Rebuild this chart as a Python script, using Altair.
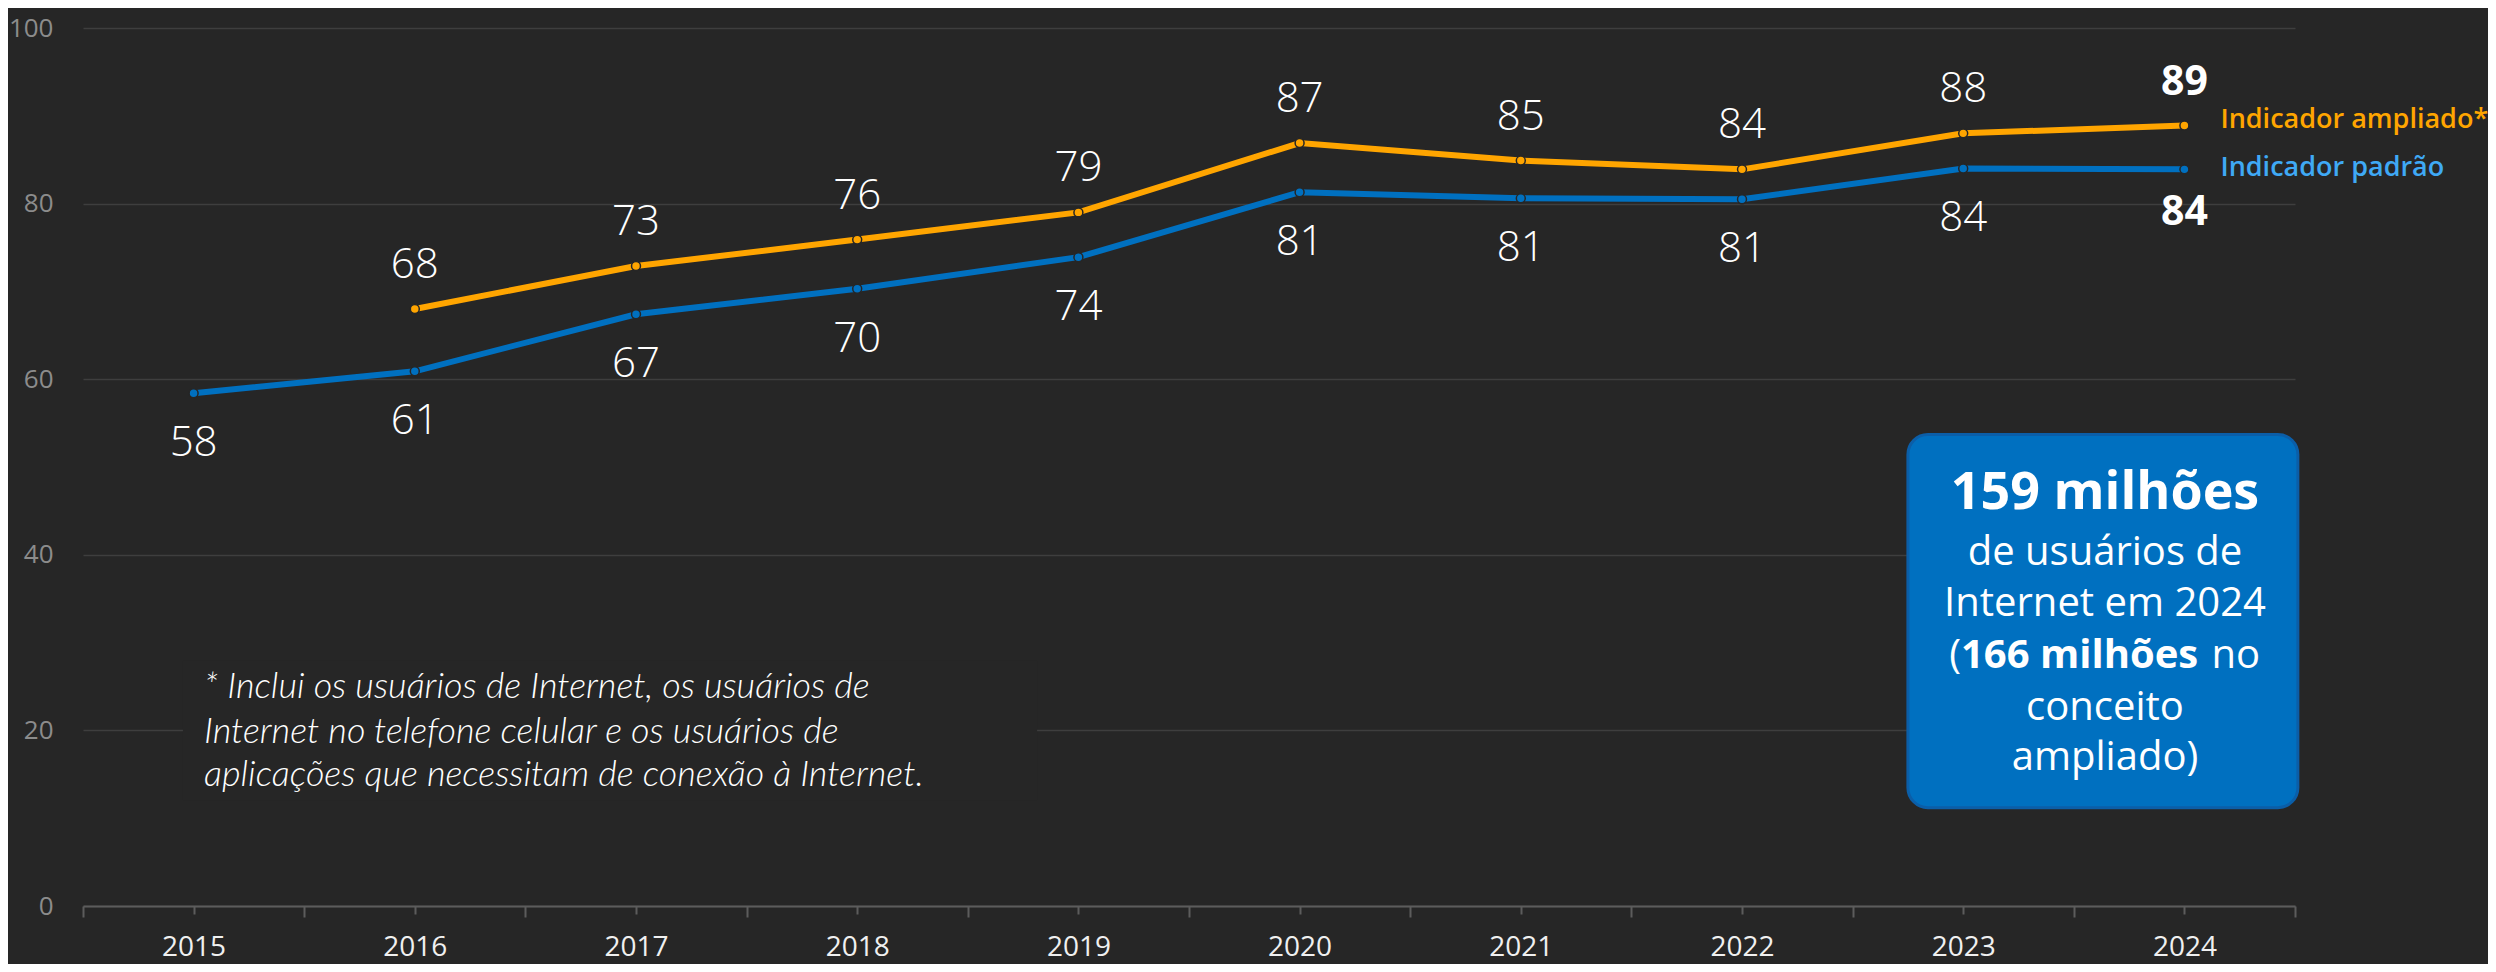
import altair as alt
import pandas as pd

# ---------------- data ----------------
years = [2015, 2016, 2017, 2018, 2019, 2020, 2021, 2022, 2023, 2024]
padrao = [58.4, 60.9, 67.4, 70.3, 73.9, 81.3, 80.6, 80.5, 84.0, 83.9]
padrao_labels = ["58", "61", "67", "70", "74", "81", "81", "81", "84", "84"]
ampliado = [None, 68.0, 72.9, 75.9, 79.0, 86.9, 84.9, 83.9, 88.0, 88.9]
ampliado_labels = [None, "68", "73", "76", "79", "87", "85", "84", "88", "89"]

series_names = ["Indicador ampliado*", "Indicador padrão"]
series_colors = ["#FFA500", "#0070C0"]
legend_text_colors = ["#FFA500", "#3FA9F5"]

y_ticks = [0, 20, 40, 60, 80, 100]

box_lines = ["159 milhões", "de usuários de", "Internet em 2024", "(166 milhões no", "conceito", "ampliado)"]
footnote_lines = [
    "* Inclui os usuários de Internet, os usuários de",
    "Internet no telefone celular e os usuários de",
    "aplicações que necessitam de conexão à Internet.",
]

# ---------------- tables ----------------
rows = []
for i, yr in enumerate(years):
    if ampliado[i] is not None:
        rows.append({"year": yr, "value": ampliado[i], "series": series_names[0], "label": ampliado_labels[i]})
    rows.append({"year": yr, "value": padrao[i], "series": series_names[1], "label": padrao_labels[i]})
df = pd.DataFrame(rows)

last_year = years[-1]
df_a = df[df.series == series_names[0]]
df_p = df[df.series == series_names[1]]

BG = "#262626"
FONT = "Open Sans"

x_ticks = [2014.5 + 0.5 * i for i in range(21)]

x_axis = alt.Axis(
    values=x_ticks,
    labelExpr="datum.value % 1 == 0 ? format(datum.value, 'd') : ''",
    grid=False,
    domainColor="#5c5c5c",
    domainWidth=2,
    tickColor="#5c5c5c",
    tickWidth=2,
    tickSize={"condition": {"test": "datum.value % 1 != 0", "value": 11}, "value": 8},
    labelColor="#f0f0f0",
    labelFont=FONT,
    labelFontSize=28,
    labelPadding=19,
    title=None,
)
y_axis = alt.Axis(
    values=y_ticks,
    grid=True,
    gridColor="#3e3e3e",
    gridWidth=1.5,
    domain=False,
    ticks=False,
    tickSize=0,
    labelColor="#8c8c8c",
    labelFont=FONT,
    labelFontSize=26,
    labelPadding=30,
    title=None,
)

X = alt.X("year:Q", scale=alt.Scale(domain=[2014.5, 2024.5], nice=False, zero=False), axis=x_axis)
Y = alt.Y("value:Q", scale=alt.Scale(domain=[0, 100], nice=False, zero=True), axis=y_axis)
C = alt.Color("series:N", scale=alt.Scale(domain=series_names, range=series_colors), legend=None)

base = alt.Chart(df).encode(x=X, y=Y, color=C)
lines = base.mark_line(strokeWidth=6)
points = base.mark_circle(size=80, opacity=1, stroke=BG, strokeWidth=1.5)

lbl_a = alt.Chart(df_a[df_a.year < last_year]).mark_text(
    dy=-44, font=FONT, fontSize=42, fontWeight=300, color="#ffffff"
).encode(x=X, y=Y, text="label:N")
lbl_p = alt.Chart(df_p[df_p.year < last_year]).mark_text(
    dy=50, font=FONT, fontSize=42, fontWeight=300, color="#ffffff"
).encode(x=X, y=Y, text="label:N")
lbl_a_last = alt.Chart(df_a[df_a.year == last_year]).mark_text(
    dy=-42, font=FONT, fontSize=41, fontWeight="bold", color="#ffffff"
).encode(x=X, y=Y, text="label:N")
lbl_p_last = alt.Chart(df_p[df_p.year == last_year]).mark_text(
    dy=44, font=FONT, fontSize=41, fontWeight="bold", color="#ffffff"
).encode(x=X, y=Y, text="label:N")

leg_a = alt.Chart(df_a[df_a.year == last_year]).mark_text(
    align="left", dx=36, dy=-5, font=FONT, fontSize=27, fontWeight=600, color=legend_text_colors[0]
).encode(x=X, y=Y, text="series:N")
leg_p = alt.Chart(df_p[df_p.year == last_year]).mark_text(
    align="left", dx=36, dy=-1, font=FONT, fontSize=27, fontWeight=600, color=legend_text_colors[1]
).encode(x=X, y=Y, text="series:N")

# ---------------- annotations ----------------
X2 = alt.X2("year2:Q")
Y2 = alt.Y2("value2:Q")

box_df = pd.DataFrame([{"year": 2022.75, "year2": 2024.513, "value": 11.2, "value2": 53.7}])
box = alt.Chart(box_df).mark_rect(
    cornerRadius=20, fill="#0070C0", stroke="#0B5EA8", strokeWidth=3
).encode(x=X, x2=X2, y=Y, y2=Y2)

box_cx = 2023.641
box_ys = [47.0, 40.2, 34.4, 28.5, 22.6, 16.8]
bt_bold = alt.Chart(pd.DataFrame([{"year": box_cx, "value": box_ys[0], "t": box_lines[0]}])).mark_text(
    font=FONT, fontSize=52, fontWeight="bold", color="#ffffff"
).encode(x=X, y=Y, text="t:N")
bt_reg = alt.Chart(pd.DataFrame([
    {"year": box_cx, "value": box_ys[i], "t": box_lines[i]} for i in (1, 2, 4, 5)
])).mark_text(font=FONT, fontSize=40, color="#ffffff").encode(x=X, y=Y, text="t:N")

l4 = pd.DataFrame([{"year": box_cx, "value": box_ys[3]}])
bt4a = alt.Chart(l4).mark_text(
    text="(", align="right", dx=-144, font=FONT, fontSize=40, color="#ffffff"
).encode(x=X, y=Y)
bt4b = alt.Chart(l4).mark_text(
    text="166 milhões", align="left", dx=-144, font=FONT, fontSize=40, fontWeight="bold", color="#ffffff"
).encode(x=X, y=Y)
bt4c = alt.Chart(l4).mark_text(
    text="no", align="right", dx=155, font=FONT, fontSize=40, color="#ffffff"
).encode(x=X, y=Y)

mask_df = pd.DataFrame([{"year": 2014.952, "year2": 2018.813, "value": 12.0, "value2": 28.0}])
mask = alt.Chart(mask_df).mark_rect(fill=BG).encode(x=X, x2=X2, y=Y, y2=Y2)

foot_df = pd.DataFrame([
    {"year": 2015.047, "value": v, "t": t} for v, t in zip([24.94, 19.82, 14.92], footnote_lines)
])
foot = alt.Chart(foot_df).mark_text(
    align="left", baseline="middle",
    font="Lato", fontSize=36, fontStyle="italic", fontWeight=300, color="#ffffff"
).encode(x=X, y=Y, text="t:N")

chart = alt.layer(
    lines, points, lbl_a, lbl_p, lbl_a_last, lbl_p_last, leg_a, leg_p,
    mask, foot, box, bt_bold, bt_reg, bt4a, bt4b, bt4c,
).properties(
    width=2212,
    height=878,
    autosize=alt.AutoSizeParams(type="none"),
    padding={"left": 75, "top": 20, "right": 193, "bottom": 58},
).configure(background=BG).configure_view(stroke=None)

chart.save("out.html", embed_options={"renderer": "svg", "actions": False})
